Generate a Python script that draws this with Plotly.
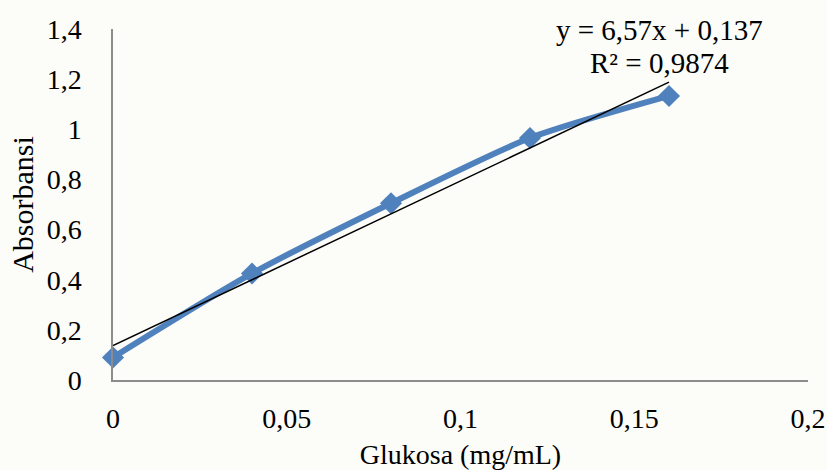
import plotly.graph_objects as go

glukosa = [0, 0.04, 0.08, 0.12, 0.16]
absorbansi = [0.09, 0.425, 0.705, 0.965, 1.133]
slope = 6.57
intercept = 0.137
eq_text = "y = 6,57x + 0,137"
r2_text = "R² = 0,9874"
x_title = "Glukosa (mg/mL)"
y_title = "Absorbansi"

trend_x = [0, 0.16]
trend_y = [slope * v + intercept for v in trend_x]

font = "Liberation Serif"

fig = go.Figure()
fig.add_trace(go.Scatter(
    x=glukosa, y=absorbansi, mode="lines+markers",
    line=dict(color="#4f81bd", width=6, shape="spline", smoothing=0.7),
    marker=dict(symbol="diamond", size=17, color="#4f81bd"),
    cliponaxis=False, showlegend=False, hoverinfo="skip"))
fig.add_trace(go.Scatter(
    x=trend_x, y=trend_y, mode="lines",
    line=dict(color="black", width=1.5),
    cliponaxis=False, showlegend=False, hoverinfo="skip"))

fig.add_annotation(x=0.1574, y=1.398, xref="x", yref="y", text=eq_text,
                   showarrow=False, font=dict(family=font, size=29, color="black"))
fig.add_annotation(x=0.1574, y=1.265, xref="x", yref="y", text=r2_text,
                   showarrow=False, font=dict(family=font, size=29, color="black"))

fig.update_layout(
    width=827, height=470,
    margin=dict(l=113, r=19, t=29, b=90),
    paper_bgcolor="#fcfcf8", plot_bgcolor="#fcfcf8",
    separators=",.",
    font=dict(family=font, size=28, color="black"),
    xaxis=dict(range=[0, 0.2], dtick=0.05, tick0=0, showgrid=False, zeroline=False,
               showline=True, linecolor="#8c8c8c", linewidth=1.5, ticks="",
               ticklabelstandoff=13, automargin=False,
               tickfont=dict(family=font, size=28, color="black"),
               title=dict(text=x_title, font=dict(family=font, size=28, color="black"))),
    yaxis=dict(range=[0, 1.4], dtick=0.2, tick0=0, showgrid=False, zeroline=False,
               showline=True, linecolor="#8c8c8c", linewidth=1.5, ticks="",
               ticklabelstandoff=24,
               tickfont=dict(family=font, size=28, color="black"),
               title=dict(text=y_title, font=dict(family=font, size=30, color="black"), standoff=4)),
)

fig.write_html("out.html")
